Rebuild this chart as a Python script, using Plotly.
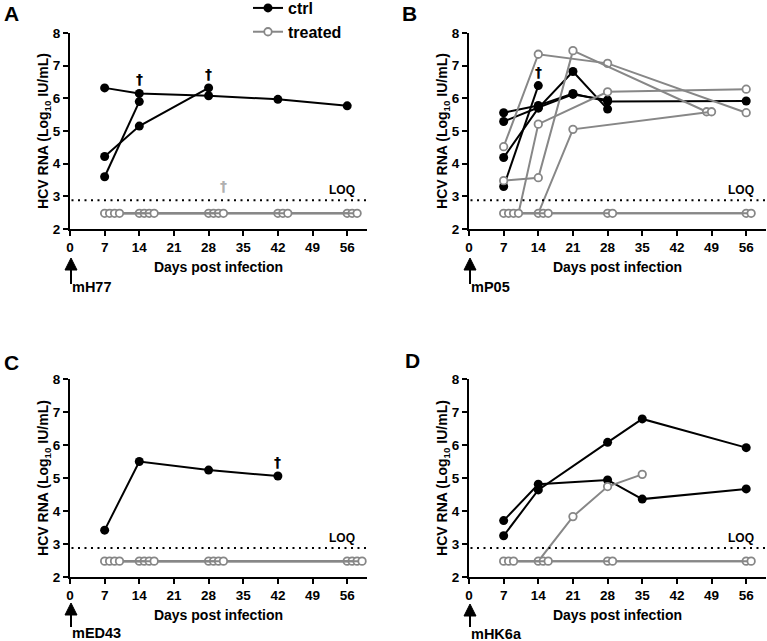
import plotly.graph_objects as go

W, H = 767, 641
BLQ = 2.48          # plotted level for samples below the limit of quantification
LOQ = 2.88          # limit of quantification (log10 IU/mL)

day_ticks = [0, 7, 14, 21, 28, 35, 42, 49, 56]
rna_ticks = [2, 3, 4, 5, 6, 7, 8]
panel_letters = ["A", "B", "C", "D"]
inoculum = ["mH77", "mP05", "mED43", "mHK6a"]

# ---------------- Panel A (mH77) ----------------
A_ctrl_days = [[7, 14, 28, 42, 56], [7, 14], [7, 14, 28]]
A_ctrl_vals = [[6.32, 6.15, 6.08, 5.97, 5.77], [3.60, 5.90], [4.22, 5.15, 6.32]]
A_ctrl_died = [False, True, True]
A_trt_days = [[7, 14, 28, 42, 56], [7, 14, 28, 42, 56], [7, 14, 28, 42, 56], [7, 14, 28]]
A_trt_vals = [[2.48, 2.48, 2.48, 2.48, 2.48], [2.48, 2.48, 2.48, 2.48, 2.48],
              [2.48, 2.48, 2.48, 2.48, 2.48], [2.48, 2.48, 2.48]]
A_trt_died = [False, False, False, True]

# ---------------- Panel B (mP05) ----------------
B_ctrl_days = [[7, 14], [7, 14, 21, 28, 56], [7, 14, 21, 28], [7, 14, 21, 28]]
B_ctrl_vals = [[3.30, 6.39], [5.56, 5.78, 6.15, 5.90, 5.92],
               [5.29, 5.72, 6.12, 5.95], [4.19, 5.70, 6.82, 5.67]]
B_ctrl_died = [True, False, False, False]
B_trt_days = [[7, 14, 28, 56], [7, 14, 21, 48], [7, 14, 21, 48],
              [7, 14, 28, 56], [7, 14, 28, 56], [7, 14, 28, 56]]
B_trt_vals = [[4.52, 7.35, 7.07, 5.56], [3.48, 3.57, 7.46, 5.59], [2.48, 2.48, 5.05, 5.59],
              [2.48, 2.48, 2.48, 2.48], [2.48, 2.48, 2.48, 2.48], [2.48, 5.21, 6.20, 6.28]]
B_trt_died = [False, False, False, False, False, False]

# ---------------- Panel C (mED43) ----------------
C_ctrl_days = [[7, 14, 28, 42]]
C_ctrl_vals = [[3.42, 5.50, 5.24, 5.06]]
C_ctrl_died = [True]
C_trt_days = [[7, 14, 28, 56], [7, 14, 28, 56], [7, 14, 28, 56], [7, 14, 28, 56]]
C_trt_vals = [[2.48, 2.48, 2.48, 2.48], [2.48, 2.48, 2.48, 2.48],
              [2.48, 2.48, 2.48, 2.48], [2.48, 2.48, 2.48, 2.48]]
C_trt_died = [False, False, False, False]

# ---------------- Panel D (mHK6a) ----------------
D_ctrl_days = [[7, 14, 28, 35, 56], [7, 14, 28, 35, 56]]
D_ctrl_vals = [[3.71, 4.81, 4.94, 4.36, 4.67], [3.25, 4.64, 6.08, 6.79, 5.92]]
D_ctrl_died = [False, False]
D_trt_days = [[7, 14, 21, 28, 35], [7, 14, 28, 56], [7, 14, 28, 56]]
D_trt_vals = [[2.48, 2.48, 3.83, 4.74, 5.11], [2.48, 2.48, 2.48, 2.48], [2.48, 2.48, 2.48, 2.48]]
D_trt_died = [False, False, False]

panels = [
    (A_ctrl_days, A_ctrl_vals, A_ctrl_died, A_trt_days, A_trt_vals, A_trt_died),
    (B_ctrl_days, B_ctrl_vals, B_ctrl_died, B_trt_days, B_trt_vals, B_trt_died),
    (C_ctrl_days, C_ctrl_vals, C_ctrl_died, C_trt_days, C_trt_vals, C_trt_died),
    (D_ctrl_days, D_ctrl_vals, D_ctrl_died, D_trt_days, D_trt_vals, D_trt_died),
]

# ---------------- styling / layout ----------------
BLACK = "#000000"
GRAY = "#878787"
LIGHTGRAY = "#b0b0b0"
FONT = "Liberation Sans, Arial, sans-serif"
DAGGER_FONT = "DejaVu Sans, Liberation Sans, sans-serif"

# plot-area pixel boxes: (left, right, top, bottom)
boxes = [(70, 367, 33, 229), (469, 766, 33, 229), (70, 367, 379, 577), (469, 766, 379, 577)]
letter_pos = [(11.5, 13.5), (410, 13.5), (11.5, 362.5), (412.5, 360)]
arrow_tip = [258, 258, 603, 604]
arrow_tail = [284, 284, 627, 627]
label_y = [287, 287, 633, 634]
ARROW_HEAD_H = 12      # px
ARROW_HEAD_HALF_W = 6  # px


def px(x):
    return x / W


def py(y):
    return 1 - y / H


def offsets(days_list, vals_list, step=1.0):
    """GraphPad-like horizontal offset of coinciding points."""
    seen = {}
    out = []
    for d, v in zip(days_list, vals_list):
        row = []
        for di, vi in zip(d, v):
            n = seen.get((di, vi), 0)
            seen[(di, vi)] = n + 1
            row.append(di + n * step)
        out.append(row)
    return out


fig = go.Figure()
annotations = []
shapes = []

for i, (cd, cv, cdied, td, tv, tdied) in enumerate(panels):
    sfx = "" if i == 0 else str(i + 1)
    xa, ya = "x" + sfx, "y" + sfx

    groups = [
        (cd, cv, cdied, [list(d) for d in cd], BLACK, "ctrl",
         dict(symbol="circle", size=9, color=BLACK, line=dict(width=0))),
        (td, tv, tdied, offsets(td, tv), GRAY, "treated",
         dict(symbol="circle", size=7.5, color="white", line=dict(width=1.8, color=GRAY))),
    ]
    for (dd, vv, died, xx, col, name, mk) in groups:
        for j, (xs, ys) in enumerate(zip(xx, vv)):
            fig.add_trace(go.Scatter(
                x=xs, y=ys, mode="lines+markers", xaxis=xa, yaxis=ya,
                line=dict(color=col, width=2), marker=mk, cliponaxis=False,
                name=name, legendgroup=name, showlegend=(i == 0 and j == 0),
                hoverinfo="skip"))
        # death daggers, placed above the highest point of the group on that day (and above LOQ)
        for j, dead in enumerate(died):
            if not dead:
                continue
            last_day = dd[j][-1]
            top = max(v[k] for d, v in zip(dd, vv) for k in range(len(d)) if d[k] == last_day)
            top = max(top, LOQ)
            annotations.append(dict(
                x=xx[j][-1], y=top, xref=xa, yref=ya, text="†", showarrow=False,
                xanchor="center", yanchor="bottom", yshift=4,
                font=dict(family=DAGGER_FONT, size=14, color=BLACK if name == "ctrl" else LIGHTGRAY,
                          weight="bold")))

    l, r, t, b = boxes[i]
    axis_common = dict(showline=True, linecolor=BLACK, linewidth=2, ticks="outside", ticklen=5,
                       tickwidth=2, tickcolor=BLACK, showgrid=False, zeroline=False,
                       automargin=False,
                       tickfont=dict(family=FONT, size=13.5, color=BLACK, weight="bold"))
    fig.layout["xaxis" + sfx] = dict(
        domain=[px(l), px(r)], anchor=ya, range=[0, 60], tickvals=day_ticks,
        title=dict(text="Days post infection", standoff=8,
                   font=dict(family=FONT, size=14, color=BLACK, weight="bold")),
        **axis_common)
    fig.layout["yaxis" + sfx] = dict(
        domain=[py(b), py(t)], anchor=xa, range=[2, 8], tickvals=rna_ticks,
        title=dict(text="HCV RNA (Log<sub>10</sub> IU/mL)", standoff=1,
                   font=dict(family=FONT, size=14, color=BLACK, weight="bold")),
        **axis_common)

    # LOQ dotted line and label
    shapes.append(dict(type="line", xref=xa, yref=ya, x0=0.3, x1=60, y0=LOQ, y1=LOQ,
                       line=dict(color=BLACK, width=2, dash="2px,4.5px")))
    annotations.append(dict(x=58, y=LOQ, xref=xa, yref=ya, text="LOQ", showarrow=False,
                            xanchor="right", yanchor="bottom", yshift=1,
                            font=dict(family=FONT, size=12, color=BLACK, weight="bold")))

    # panel letter
    lx, ly = letter_pos[i]
    annotations.append(dict(x=px(lx), y=py(ly), xref="paper", yref="paper", text=panel_letters[i],
                            showarrow=False, xanchor="center", yanchor="middle",
                            font=dict(family=FONT, size=21, color=BLACK, weight="bold")))

    # inoculation arrow at day 0 (shaft + filled head) and virus label
    ax0 = l + 1
    shapes.append(dict(type="line", xref="paper", yref="paper", x0=px(ax0), x1=px(ax0),
                       y0=py(arrow_tail[i]), y1=py(arrow_tip[i] + ARROW_HEAD_H - 1),
                       line=dict(color=BLACK, width=2)))
    head = "M {a},{yb} L {b},{yb} L {c},{yt} Z".format(
        a=px(ax0 - ARROW_HEAD_HALF_W), b=px(ax0 + ARROW_HEAD_HALF_W), c=px(ax0),
        yb=py(arrow_tip[i] + ARROW_HEAD_H), yt=py(arrow_tip[i]))
    shapes.append(dict(type="path", xref="paper", yref="paper", path=head,
                       fillcolor=BLACK, line=dict(color=BLACK, width=1)))
    annotations.append(dict(x=0, y=py(label_y[i]), xref=xa, yref="paper", text=inoculum[i],
                            showarrow=False, xanchor="left", yanchor="middle", xshift=0,
                            font=dict(family=FONT, size=14.5, color=BLACK, weight="bold")))

fig.update_layout(
    width=W, height=H, margin=dict(l=0, r=0, t=0, b=0, autoexpand=False),
    paper_bgcolor="white", plot_bgcolor="white",
    showlegend=True,
    legend=dict(x=px(248), y=1.014, xanchor="left", yanchor="top", bgcolor="rgba(0,0,0,0)",
                font=dict(family=FONT, size=16, color=BLACK, weight="bold"),
                tracegroupgap=0, itemwidth=30),
    annotations=annotations, shapes=shapes,
)

fig.write_html("out.html", config={"displayModeBar": False},
               post_script="document.body.style.margin='0';")
